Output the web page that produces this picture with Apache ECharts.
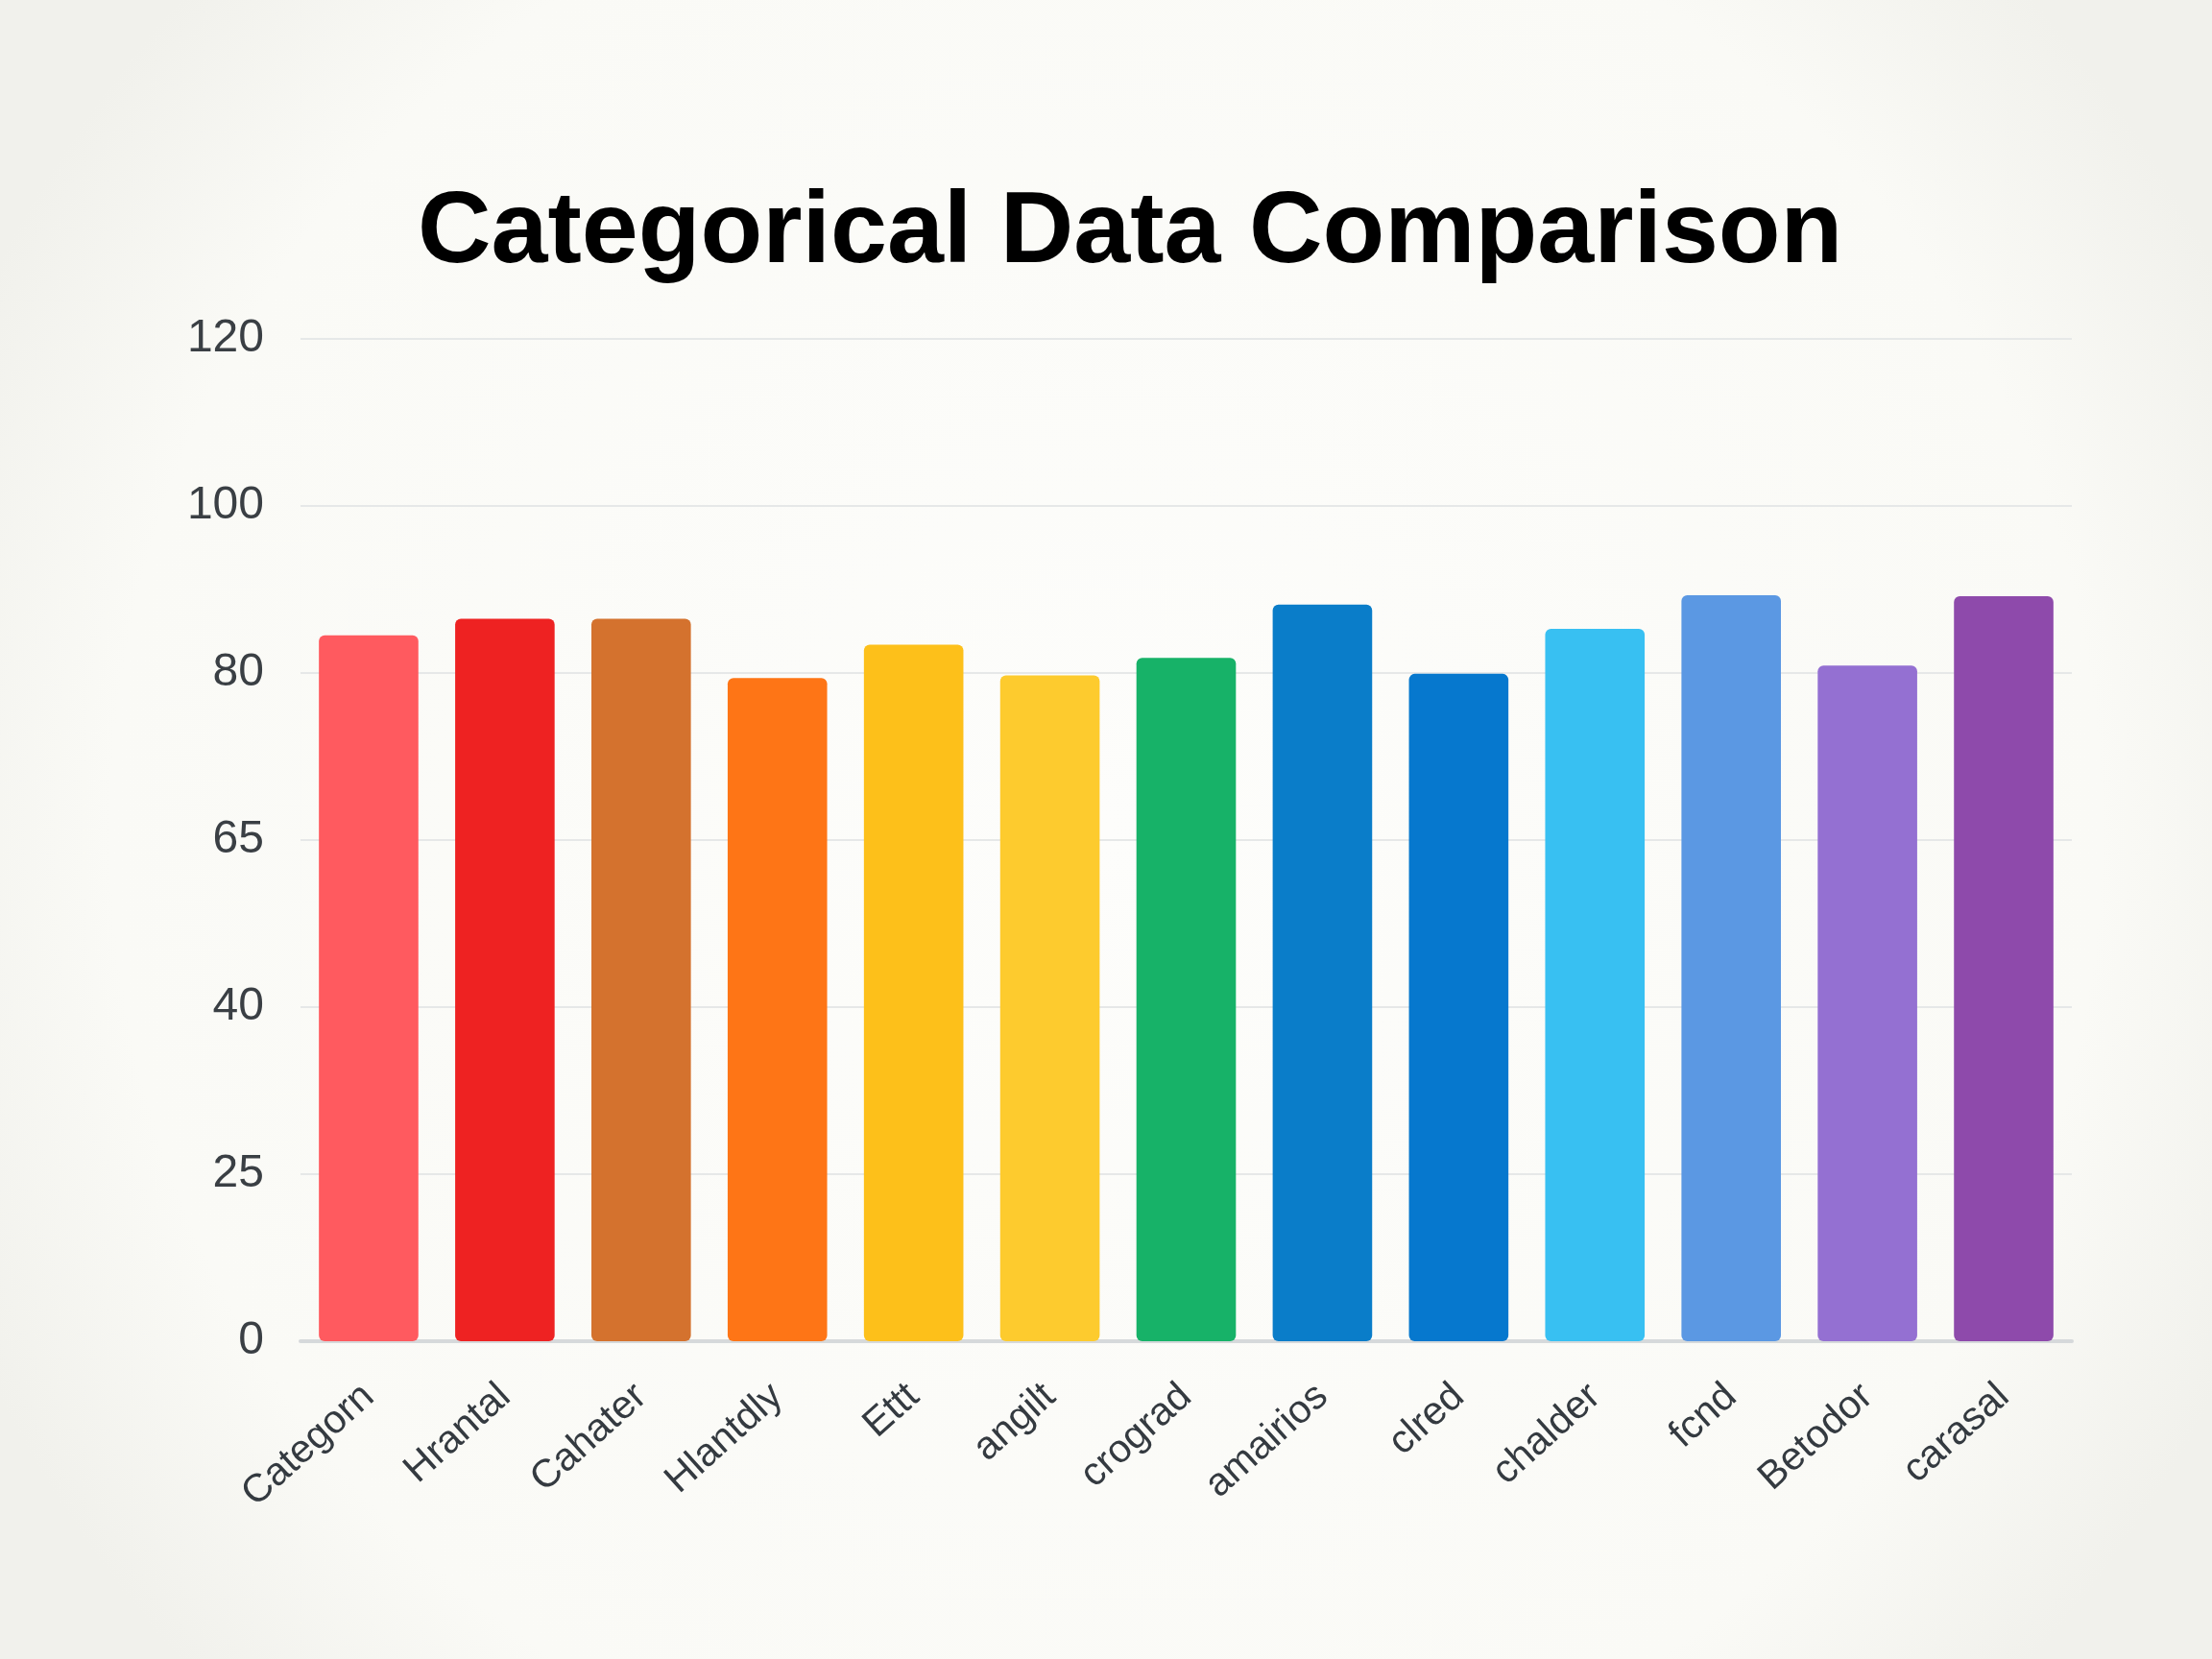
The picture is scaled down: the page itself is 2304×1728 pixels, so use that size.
<!DOCTYPE html>
<html>
<head>
<meta charset="utf-8">
<title>Categorical Data Comparison</title>
<script src="https://cdn.jsdelivr.net/npm/echarts@6/dist/echarts.min.js"></script>
<style>
    html, body { margin: 0; padding: 0; background: #fbfbf8; }
    #chart { width: 2304px; height: 1728px; }
</style>
</head>
<body>
<div id="chart"></div>
<script>
// 分类名称
var categories = ['Categorn', 'Hrantal', 'Cahater', 'Hlantdly', 'Ettt', 'angilt', 'crograd',
    'amairios', 'clred', 'chalder', 'fcnd', 'Betodor', 'carasal'];
// 数值
var values = [84.5, 86.5, 86.5, 79.4, 83.4, 79.7, 81.8, 88.2, 79.9, 85.3, 89.3, 80.9, 89.2];
// 每根柱子的颜色
var barColors = ['#ff5a5f', '#ee2222', '#d4722e', '#fe7516', '#fdc01a', '#fdcb2e', '#17b268',
    '#0a7dc9', '#0678ce', '#38c0f2', '#5b98e3', '#9470d2', '#8e4aab'];
// y 轴刻度文字（网格等距）
var yTickLabels = ['0', '25', '40', '65', '80', '100', '120'];

var myChart = echarts.init(document.getElementById('chart'));

var option = {
    backgroundColor: {
        type: 'radial', x: 0.5, y: 0.5, r: 0.75,
        colorStops: [{ offset: 0, color: '#fdfdfb' }, { offset: 0.8, color: '#fafaf6' }, { offset: 1, color: '#f1f1ec' }]
    },
    title: {
        text: 'Categorical Data Comparison',
        left: 430,
        top: 186,
        textStyle: {
            fontFamily: 'Liberation Sans',
            fontSize: 106,
            fontWeight: 'bold',
            color: '#000000'
        }
    },
    grid: {
        left: 313,
        right: 146,
        top: 353,
        bottom: 331
    },
    xAxis: {
        type: 'category',
        data: categories,
        axisLine: { lineStyle: { color: '#d6d9db', width: 4 } },
        axisTick: { show: false },
        axisLabel: {
            rotate: 42,
            margin: 52,
            fontFamily: 'Liberation Sans',
            fontSize: 41,
            color: '#343a40'
        }
    },
    yAxis: {
        type: 'value',
        min: 0,
        max: 120,
        interval: 20,
        axisLine: { show: false },
        axisTick: { show: false },
        splitLine: { lineStyle: { color: '#e6e8e8', width: 2 } },
        axisLabel: {
            margin: 38,
            fontFamily: 'Liberation Sans',
            fontSize: 48,
            color: '#3a3f44',
            formatter: function (val) {
                return yTickLabels[Math.round(val / 20)];
            }
        }
    },
    series: [
        {
            type: 'bar',
            barWidth: '73%',
            data: values.map(function (v, i) {
                return { value: v, itemStyle: { color: barColors[i] } };
            }),
            itemStyle: { borderRadius: 6 }
        }
    ]
};
myChart.setOption(option);
</script>
</body>
</html>
